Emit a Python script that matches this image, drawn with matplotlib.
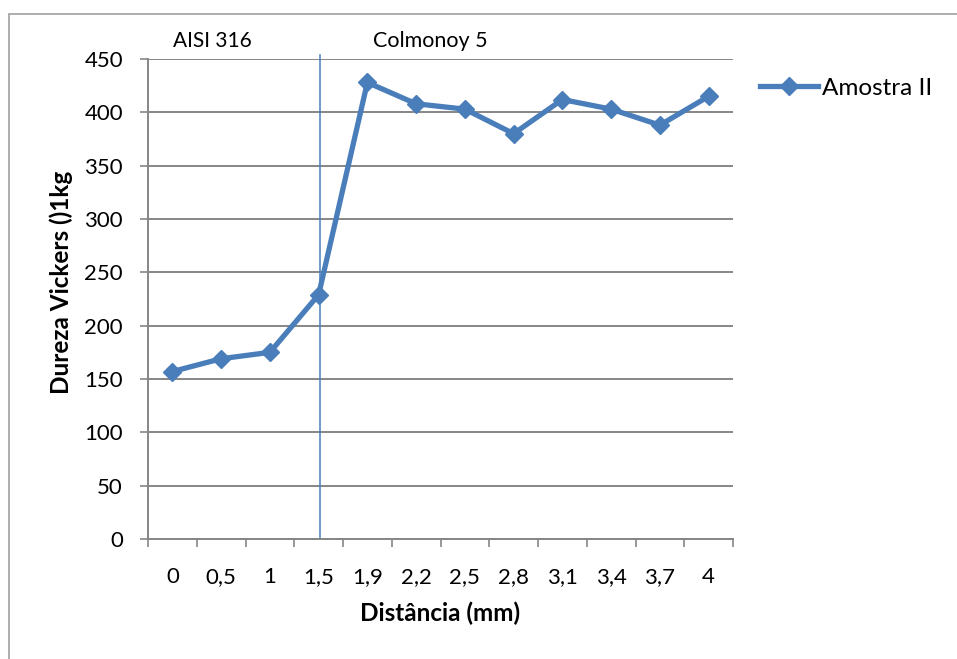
import matplotlib
matplotlib.use("Agg")
import matplotlib.pyplot as plt
from matplotlib.patches import Rectangle
from matplotlib.lines import Line2D

plt.rcParams['font.family'] = ['Lato', 'DejaVu Sans']

# Hardness profile across the AISI 316 / Colmonoy 5 interface
distances = ["0", "0,5", "1", "1,5", "1,9", "2,2", "2,5", "2,8", "3,1", "3,4", "3,7", "4"]
hardness = [157, 169, 175, 229, 428, 408, 403, 380, 412, 403, 388, 415]
interface_pos = 3.03
y_ticks = [0, 50, 100, 150, 200, 250, 300, 350, 400, 450]

blue = "#4A7EBB"
grid_gray = "#868686"

fig = plt.figure(figsize=(9.57, 6.59), dpi=100)
fig.patches.append(Rectangle((8.5 / 957, -0.1), 1.2, (659 - 13.5) / 659 + 0.1,
                             transform=fig.transFigure, fill=False,
                             edgecolor="#A0A0A0", linewidth=1.2))

ax = fig.add_axes([148 / 957, (659 - 539) / 659, 585 / 957, 480 / 659])

x = list(range(len(distances)))
ax.plot(x, hardness, color=blue, linewidth=3.8, marker="D", markersize=9.5,
        markeredgecolor=blue, markerfacecolor=blue, zorder=3)
ax.axvline(interface_pos, ymin=0, ymax=1.008, color=blue, linewidth=1.1,
           clip_on=False, zorder=2)

ax.set_xlim(-0.5, len(distances) - 0.5)
ax.set_ylim(0, 450)
ax.set_yticks(y_ticks)
ax.yaxis.grid(True, color=grid_gray, linewidth=1.4)
ax.set_axisbelow(True)

ax.set_xticks([i - 0.5 for i in range(len(distances) + 1)])
ax.set_xticklabels([])
ax.set_xticks(x, minor=True)
ax.set_xticklabels(distances, minor=True)
ax.tick_params(axis="x", which="major", length=6, width=1.2, color=grid_gray, direction="out")
ax.tick_params(axis="x", which="minor", length=0, labelsize=16, pad=20)
ax.tick_params(axis="y", length=6, width=1.2, color=grid_gray, labelsize=16, pad=12)

for side in ("top", "right"):
    ax.spines[side].set_visible(False)
for side in ("left", "bottom"):
    ax.spines[side].set_color(grid_gray)
    ax.spines[side].set_linewidth(1.4)

fig.text(440 / 957, 1 - 613 / 659, "Distância (mm)", ha="center", va="center",
         fontsize=17.5, fontweight="bold")
fig.text(61 / 957, 1 - 282 / 659, "Dureza Vickers ()1kg", ha="center", va="center",
         rotation=90, fontsize=17.5, fontweight="bold")

fig.text(212 / 957, 1 - 41 / 659, "AISI 316", ha="center", va="center", fontsize=15)
fig.text(430 / 957, 1 - 41 / 659, "Colmonoy 5", ha="center", va="center", fontsize=15.5)

handle = Line2D([], [], color=blue, linewidth=3.8, marker="D", markersize=9.5)
fig.legend([handle], ["Amostra II"], loc="center left",
           bbox_to_anchor=(760 / 957, 1 - 88 / 659), frameon=False,
           fontsize=17.5, handlelength=2.4, handletextpad=0.15, borderpad=0,
           borderaxespad=0)

fig.savefig("out.png", dpi=100)
